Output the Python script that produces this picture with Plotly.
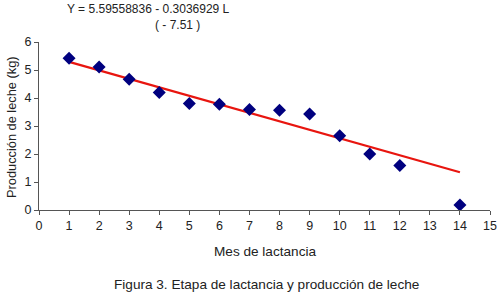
import plotly.graph_objects as go

mes = [1, 2, 3, 4, 5, 6, 7, 8, 9, 10, 11, 12, 14]
produccion = [5.42, 5.11, 4.67, 4.2, 3.8, 3.78, 3.59, 3.56, 3.43, 2.65, 2.0, 1.59, 0.18]
trend_x = [1, 14]
trend_y = [5.29, 1.35]
x_ticks = list(range(0, 16))
y_ticks = list(range(0, 7))

font = "Liberation Sans, Arial, sans-serif"

W, H = 500, 294
l, r, t, b = 39, 10, 42, 84
pw, ph = W - l - r, H - t - b


def px_to_paper(px, py):
    return (px - l) / pw, (H - b - py) / ph


fig = go.Figure()
fig.add_trace(go.Scatter(x=trend_x, y=trend_y, mode="lines",
                         line=dict(color="#e8150f", width=2.2), hoverinfo="skip"))
fig.add_trace(go.Scatter(x=mes, y=produccion, mode="markers",
                         marker=dict(symbol="diamond", size=10, color="#00007f")))

texts = [
    ("Y = 5.59558836 - 0.3036929 L", 148, 9, 12),
    ("( - 7.51 )", 177, 25, 12),
    ("Figura 3. Etapa de lactancia y producción de leche", 266, 284, 13.6),
    ("Mes de lactancia", 265, 251, 13.6),
]
annotations = []
for txt, px, py, fs in texts:
    ax, ay = px_to_paper(px, py)
    annotations.append(dict(text=txt, x=ax, y=ay, xref="paper", yref="paper",
                            xanchor="center", yanchor="middle", showarrow=False,
                            font=dict(size=fs)))
ax, ay = px_to_paper(11, 127)
annotations.append(dict(text="Producción de leche (kg)", x=ax, y=ay, xref="paper", yref="paper",
                        xanchor="center", yanchor="middle", showarrow=False, textangle=-90,
                        font=dict(size=12.8)))

fig.update_layout(
    width=W, height=H,
    margin=dict(l=l, r=r, t=t, b=b),
    paper_bgcolor="white", plot_bgcolor="white",
    showlegend=False,
    font=dict(family=font, color="#222222", size=12),
    xaxis=dict(range=[0, 15], tickvals=x_ticks, showgrid=False, zeroline=False,
               showline=True, linecolor="#555555", linewidth=1,
               ticks="outside", ticklen=4, tickcolor="#555555",
               tickfont=dict(size=12.5), fixedrange=True, automargin=False),
    yaxis=dict(range=[0, 6], tickvals=y_ticks, showgrid=False, zeroline=False,
               showline=True, linecolor="#555555", linewidth=1,
               ticks="outside", ticklen=4, tickcolor="#555555",
               tickfont=dict(size=12.5), fixedrange=True, automargin=False),
    annotations=annotations,
)

fig.write_html("out.html", config={"displayModeBar": False},
               post_script="document.body.style.margin='0';document.body.style.overflow='hidden';")
